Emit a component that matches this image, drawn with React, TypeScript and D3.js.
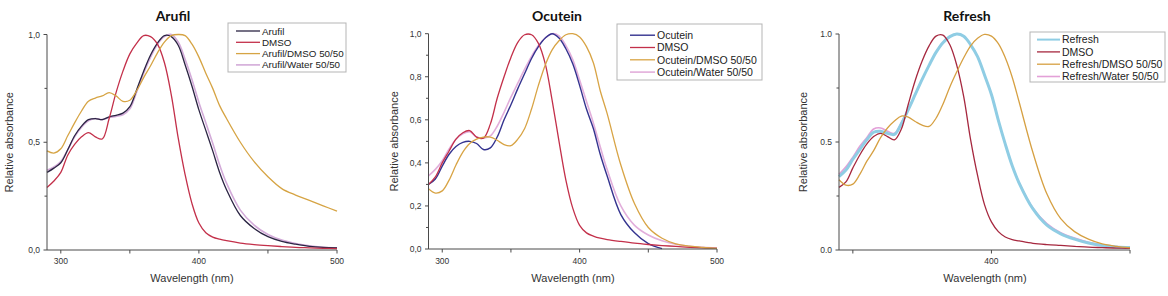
import React from "react";
import * as d3 from "d3";

// Shared wavelength grid (nm)
const wavelengths = [290,295,300,305,310,315,320,325,330,335,340,345,350,355,360,365,370,375,380,385,390,395,400,405,410,415,420,430,440,450,460,470,480,490,500];

// Panel 1: Arufil
const arufil = [0.36,0.38,0.405,0.465,0.53,0.575,0.605,0.61,0.605,0.618,0.625,0.635,0.665,0.745,0.83,0.905,0.96,0.995,0.99,0.95,0.86,0.76,0.65,0.555,0.46,0.36,0.28,0.16,0.10,0.062,0.04,0.027,0.017,0.012,0.01];
const arufilDmso = [0.29,0.32,0.36,0.44,0.49,0.525,0.545,0.525,0.515,0.61,0.73,0.83,0.91,0.96,0.995,0.99,0.955,0.87,0.72,0.52,0.35,0.215,0.125,0.08,0.06,0.05,0.043,0.032,0.025,0.02,0.016,0.012,0.01,0.008,0.006];
const arufilMix = [0.46,0.45,0.47,0.53,0.59,0.645,0.69,0.705,0.715,0.73,0.715,0.69,0.695,0.74,0.8,0.855,0.915,0.965,0.995,1.0,0.995,0.955,0.895,0.82,0.75,0.67,0.61,0.5,0.41,0.34,0.285,0.255,0.23,0.205,0.18];
const arufilWater = [0.37,0.385,0.41,0.465,0.525,0.57,0.6,0.61,0.605,0.615,0.62,0.628,0.655,0.735,0.82,0.895,0.955,0.99,1.0,0.965,0.885,0.79,0.685,0.59,0.495,0.395,0.31,0.185,0.115,0.072,0.046,0.03,0.019,0.013,0.01];

// Panel 2: Ocutein
const ocutein = [0.30,0.325,0.385,0.44,0.476,0.495,0.50,0.49,0.462,0.47,0.52,0.60,0.67,0.745,0.815,0.885,0.94,0.98,1.0,0.98,0.93,0.86,0.76,0.65,0.56,0.44,0.34,0.16,0.075,0.025,0.002,null,null,null,null];
const ocuteinDmso = [0.30,0.335,0.40,0.455,0.51,0.54,0.55,0.52,0.515,0.58,0.70,0.80,0.89,0.96,0.995,0.995,0.955,0.86,0.69,0.50,0.32,0.19,0.11,0.075,0.06,0.05,0.044,0.035,0.027,0.021,0.016,0.012,0.008,0.005,0.003];
const ocuteinMix = [0.28,0.26,0.27,0.32,0.39,0.45,0.49,0.51,0.52,0.52,0.505,0.485,0.48,0.51,0.56,0.65,0.76,0.855,0.925,0.967,0.995,1.0,0.985,0.94,0.865,0.735,0.63,0.39,0.21,0.10,0.05,0.024,0.013,0.007,0.003];
const ocuteinWater = [0.34,0.37,0.41,0.465,0.51,0.535,0.545,0.52,0.515,0.525,0.57,0.635,0.705,0.77,0.835,0.895,0.945,0.98,1.0,0.99,0.945,0.88,0.785,0.685,0.585,0.475,0.37,0.2,0.11,0.065,0.038,0.022,0.013,0.008,0.005];

// Panel 3: Refresh
const refresh = [0.34,0.37,0.42,0.465,0.51,0.545,0.55,0.54,0.535,0.585,0.65,0.72,0.79,0.855,0.915,0.96,0.988,1.0,0.99,0.95,0.895,0.81,0.72,0.60,0.49,0.39,0.31,0.19,0.115,0.075,0.05,0.032,0.021,0.014,0.011];
const refreshDmso = [0.29,0.315,0.38,0.44,0.49,0.525,0.54,0.525,0.51,0.56,0.675,0.785,0.875,0.945,0.99,0.995,0.95,0.855,0.71,0.51,0.345,0.21,0.13,0.085,0.06,0.048,0.042,0.031,0.025,0.021,0.017,0.013,0.011,0.009,0.008];
const refreshMix = [0.325,0.30,0.305,0.35,0.41,0.46,0.52,0.565,0.597,0.62,0.615,0.595,0.578,0.572,0.61,0.675,0.755,0.825,0.89,0.945,0.98,0.998,0.99,0.955,0.89,0.80,0.685,0.45,0.26,0.145,0.085,0.05,0.028,0.017,0.01];
const refreshWater = [0.35,0.385,0.43,0.48,0.52,0.56,0.565,0.55,0.54,0.59,0.65,0.72,0.79,0.855,0.915,0.96,0.988,1.0,0.99,0.95,0.895,0.81,0.72,0.60,0.49,0.39,0.312,0.193,0.122,0.08,0.055,0.036,0.024,0.016,0.012];

const titles = ["Arufil", "Ocutein", "Refresh"];
const legendNames = [
  ["Arufil", "DMSO", "Arufil/DMSO 50/50", "Arufil/Water 50/50"],
  ["Ocutein", "DMSO", "Ocutein/DMSO 50/50", "Ocutein/Water 50/50"],
  ["Refresh", "DMSO", "Refresh/DMSO 50/50", "Refresh/Water 50/50"],
];
const yTickValues = [
  [0, 0.5, 1.0],
  [0, 0.2, 0.4, 0.6, 0.8, 1.0],
  [0, 0.5, 1.0],
];
const yMinorValues = [
  [0.25, 0.75],
  [0.1, 0.3, 0.5, 0.7, 0.9],
  [0.25, 0.75],
];
const decimalSeparators = [",", ",", "."];
const xTickValues = [
  [300, 350, 400, 450, 500],
  [300, 350, 400, 450, 500],
  [300, 400, 500],
];
const xTickLabels = [
  [300, 400, 500],
  [300, 400, 500],
  [400],
];

type Panel = {
  x0: number; x1: number; yTop: number; yBot: number;
  series: { values: (number | null)[]; color: string; width: number }[];
  legend: { x0: number; y0: number; x1: number; y1: number; rows: number[]; lx0: number; lx1: number; tx: number; fs: number };
  titleX: number; ylabX: number; xlabX: number;
};

const panels: Panel[] = [
  {
    x0: 47, x1: 337, yTop: 34.5, yBot: 250,
    series: [
      { values: arufilWater, color: "#d3abd9", width: 1.6 },
      { values: arufil, color: "#2b2443", width: 1.3 },
      { values: arufilDmso, color: "#c3304a", width: 1.3 },
      { values: arufilMix, color: "#d6a444", width: 1.3 },
    ],
    legend: { x0: 228, y0: 23, x1: 346, y1: 72, rows: [31, 42.3, 53.6, 64.9], lx0: 236, lx1: 260, tx: 262, fs: 9.8 },
    titleX: 173, ylabX: 9, xlabX: 192,
  },
  {
    x0: 428.5, x1: 717, yTop: 33.7, yBot: 249,
    series: [
      { values: ocuteinWater, color: "#e2aedb", width: 1.6 },
      { values: ocutein, color: "#34338f", width: 1.4 },
      { values: ocuteinDmso, color: "#c3304a", width: 1.3 },
      { values: ocuteinMix, color: "#d8a445", width: 1.3 },
    ],
    legend: { x0: 617, y0: 24, x1: 762, y1: 80, rows: [35.2, 47.5, 59.8, 72.1], lx0: 630, lx1: 655, tx: 657, fs: 10.5 },
    titleX: 557, ylabX: 394, xlabX: 573,
  },
  {
    x0: 839, x1: 1130, yTop: 34, yBot: 250,
    series: [
      { values: refreshWater, color: "#e3a0d8", width: 1.6 },
      { values: refresh, color: "#8fcde4", width: 3 },
      { values: refreshDmso, color: "#a6283f", width: 1.3 },
      { values: refreshMix, color: "#d6a042", width: 1.3 },
    ],
    legend: { x0: 1030, y0: 32, x1: 1165, y1: 82, rows: [39.6, 51.9, 64.2, 76.5], lx0: 1037, lx1: 1060, tx: 1062, fs: 10.5 },
    titleX: 967, ylabX: 803, xlabX: 985,
  },
];

const AXIS = "#4a4a4a";
const FONT = "'Liberation Sans', Arial, sans-serif";

function ChartPanel({ p, i }: { p: Panel; i: number }) {
  const x = d3.scaleLinear().domain([290, 500]).range([p.x0, p.x1]);
  const y = d3.scaleLinear().domain([0, 1]).range([p.yBot, p.yTop]);
  const fmt = (v: number) => v.toFixed(1).replace(".", decimalSeparators[i]);
  const line = d3
    .line<number | null>()
    .defined((d) => d !== null)
    .x((_, k) => x(wavelengths[k]))
    .y((d) => y(d as number))
    .curve(d3.curveCatmullRom.alpha(0.5));
  const midY = (p.yTop + p.yBot) / 2;
  const lg = p.legend;
  return (
    <g>
      <text x={p.titleX} y={21} textAnchor="middle" fontFamily="Lato, 'Open Sans', sans-serif" fontWeight="bold" fontSize={14} fill="#111">
        {titles[i]}
      </text>
      {p.series.map((s, k) => (
        <path key={k} d={line(s.values) || ""} fill="none" stroke={s.color} strokeWidth={s.width} strokeLinejoin="round" />
      ))}
      {/* axes */}
      <line x1={p.x0} x2={p.x0} y1={p.yTop} y2={p.yBot} stroke={AXIS} strokeWidth={1} />
      <line x1={p.x0} x2={p.x1} y1={p.yBot} y2={p.yBot} stroke={AXIS} strokeWidth={1} />
      {yTickValues[i].map((v) => (
        <g key={"y" + v}>
          <line x1={p.x0 - 3.5} x2={p.x0} y1={y(v)} y2={y(v)} stroke={AXIS} />
          <text x={p.x0 - 7} y={y(v) + 3} textAnchor="end" fontFamily={FONT} fontSize={8.5} fill="#333">
            {fmt(v)}
          </text>
        </g>
      ))}
      {yMinorValues[i].map((v) => (
        <line key={"ym" + v} x1={p.x0 - 2.5} x2={p.x0} y1={y(v)} y2={y(v)} stroke={AXIS} />
      ))}
      {xTickValues[i].map((v) => (
        <line key={"x" + v} x1={x(v)} x2={x(v)} y1={p.yBot} y2={p.yBot + 3.5} stroke={AXIS} />
      ))}
      {xTickLabels[i].map((v) => (
        <text key={"xl" + v} x={x(v)} y={264} textAnchor="middle" fontFamily={FONT} fontSize={8.5} fill="#333">
          {v}
        </text>
      ))}
      <text x={p.xlabX} y={282} textAnchor="middle" fontFamily={FONT} fontSize={11} fill="#333">
        Wavelength (nm)
      </text>
      <text transform={`translate(${p.ylabX + 4},${midY}) rotate(-90)`} textAnchor="middle" fontFamily={FONT} fontSize={11} fill="#333">
        Relative absorbance
      </text>
      {/* legend */}
      <rect x={lg.x0} y={lg.y0} width={lg.x1 - lg.x0} height={lg.y1 - lg.y0} fill="#fff" stroke="#b5b5b5" strokeWidth={1} />
      {legendNames[i].map((name, k) => {
        const order = [1, 2, 3, 0][k];
        const s = p.series[order];
        return (
          <g key={name}>
            <line x1={lg.lx0} x2={lg.lx1} y1={lg.rows[k]} y2={lg.rows[k]} stroke={s.color} strokeWidth={Math.min(s.width, 2)} />
            <text x={lg.tx} y={lg.rows[k] + lg.fs * 0.36} fontFamily={FONT} fontSize={lg.fs} fill="#222">
              {name}
            </text>
          </g>
        );
      })}
    </g>
  );
}

export default function App() {
  return (
    <svg width={1168} height={296} style={{ position: "absolute", left: 0, top: 0, background: "#fff" }}>
      <rect width={1168} height={296} fill="#fff" />
      {panels.map((p, i) => (
        <ChartPanel key={i} p={p} i={i} />
      ))}
    </svg>
  );
}
